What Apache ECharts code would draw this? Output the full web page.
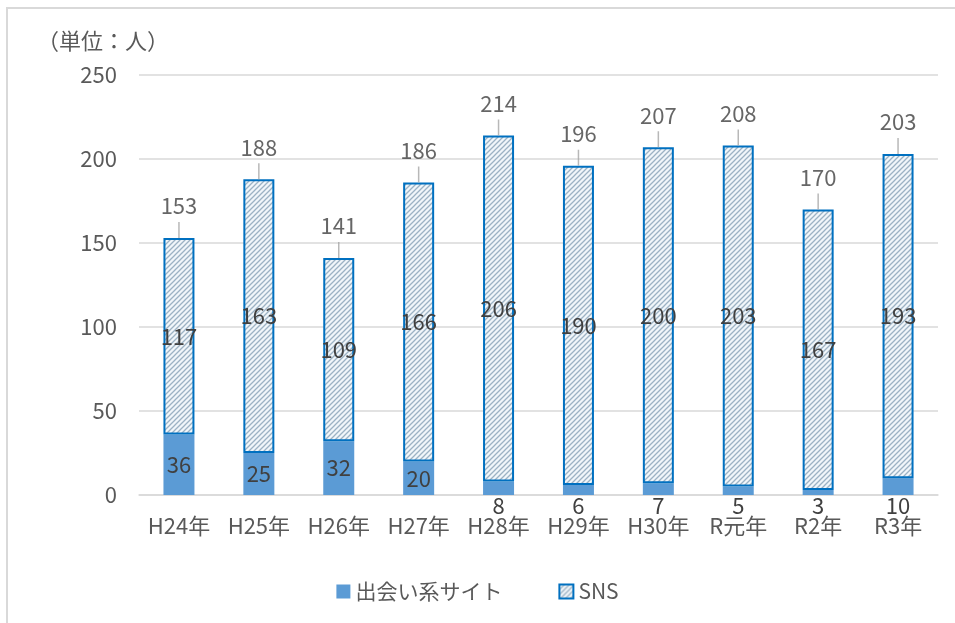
<!DOCTYPE html>
<html>
<head>
<meta charset="utf-8">
<script src="https://cdn.jsdelivr.net/npm/echarts@6/dist/echarts.min.js"></script>
<style>
   html, body { margin: 0; padding: 0; background: #fff; }
   #chart { width: 955px; height: 623px; }
</style>
</head>
<body>
<div id="chart"></div>
<script>
   // 年度
   var years = ['H24年', 'H25年', 'H26年', 'H27年', 'H28年', 'H29年', 'H30年', 'R元年', 'R2年', 'R3年'];
   // 出会い系サイト
   var deaiValues = [36, 25, 32, 20, 8, 6, 7, 5, 3, 10];
   // SNS
   var snsValues = [117, 163, 109, 166, 206, 190, 200, 203, 167, 193];
   // 合計
   var totalValues = [153, 188, 141, 186, 214, 196, 207, 208, 170, 203];

   var font = '"Noto Sans CJK JP", "Noto Sans", sans-serif';

   // 斜線パターン
   function makeHatch(){
      var s = 5;
      var c = document.createElement('canvas');
      c.width = s; c.height = s;
      var ctx = c.getContext('2d');
      ctx.fillStyle = '#f1f6fa';
      ctx.fillRect(0, 0, s, s);
      ctx.strokeStyle = '#9cb2c4';
      ctx.lineWidth = 1.3;
      ctx.beginPath();
      ctx.moveTo(0, s); ctx.lineTo(s, 0);
      ctx.moveTo(-1, 1); ctx.lineTo(1, -1);
      ctx.moveTo(s - 1, s + 1); ctx.lineTo(s + 1, s - 1);
      ctx.stroke();
      return c;
   }

   // 値が小さい棒はラベルを軸の下に出す
   var deaiData = deaiValues.map(function(v){
      if(v <= 10){
         return {value: v, label: {position: 'bottom', distance: 0}};
      }
      return v;
   });

   var myChart = echarts.init(document.getElementById('chart'));
   var option = {
      backgroundColor: '#fff',
      textStyle: {fontFamily: font},
      title: {
         text: '（単位：人）',
         left: 32,
         top: 25,
         textStyle: {fontSize: 22, fontWeight: 'normal', color: '#595959', fontFamily: font}
      },
      graphic: [{
         type: 'rect',
         shape: {x: 7, y: 8, width: 1000, height: 700},
         style: {fill: 'none', stroke: '#d9d9d9', lineWidth: 2},
         silent: true
      }],
      legend: {
         data: ['出会い系サイト', 'SNS'],
         bottom: 16,
         left: 'center',
         icon: 'rect',
         itemWidth: 14,
         itemHeight: 14,
         itemGap: 56,
         textStyle: {fontSize: 21, color: '#595959', fontFamily: font}
      },
      grid: {
         left: 139,
         right: 17,
         top: 75,
         bottom: 128,
         containLabel: false
      },
      xAxis: {
         type: 'category',
         data: years,
         axisTick: {show: false},
         axisLine: {lineStyle: {color: '#d9d9d9', width: 1.5}},
         axisLabel: {interval: 0, hideOverlap: false, fontSize: 22, color: '#595959', margin: 20, fontFamily: font}
      },
      yAxis: {
         type: 'value',
         min: 0,
         max: 250,
         interval: 50,
         axisLine: {show: false},
         axisTick: {show: false},
         axisLabel: {fontSize: 22, color: '#595959', margin: 22, fontFamily: font},
         splitLine: {lineStyle: {color: '#d9d9d9', width: 1.5}}
      },
      series: [
         {
            name: '出会い系サイト',
            type: 'bar',
            stack: '総数',
            barWidth: 31,
            itemStyle: {color: '#5b9bd5'},
            label: {show: true, position: 'inside', fontSize: 22, color: '#404040', fontFamily: font},
            data: deaiData
         },
         {
            name: 'SNS',
            type: 'bar',
            stack: '総数',
            barWidth: 31,
            itemStyle: {
               color: {image: makeHatch(), repeat: 'repeat'},
               borderColor: '#0070c0',
               borderWidth: 2
            },
            label: {show: true, position: 'inside', fontSize: 22, color: '#404040', fontFamily: font},
            data: snsValues
         },
         {
            name: '合計',
            type: 'scatter',
            symbol: 'rect',
            symbolSize: [1.5, 16],
            symbolOffset: [0, -8],
            itemStyle: {color: '#a6a6a6'},
            label: {show: true, position: 'top', distance: 5, fontSize: 22, color: '#404040', fontFamily: font},
            z: 5,
            data: totalValues
         }
      ]
   };
   myChart.setOption(option);
</script>
</body>
</html>
